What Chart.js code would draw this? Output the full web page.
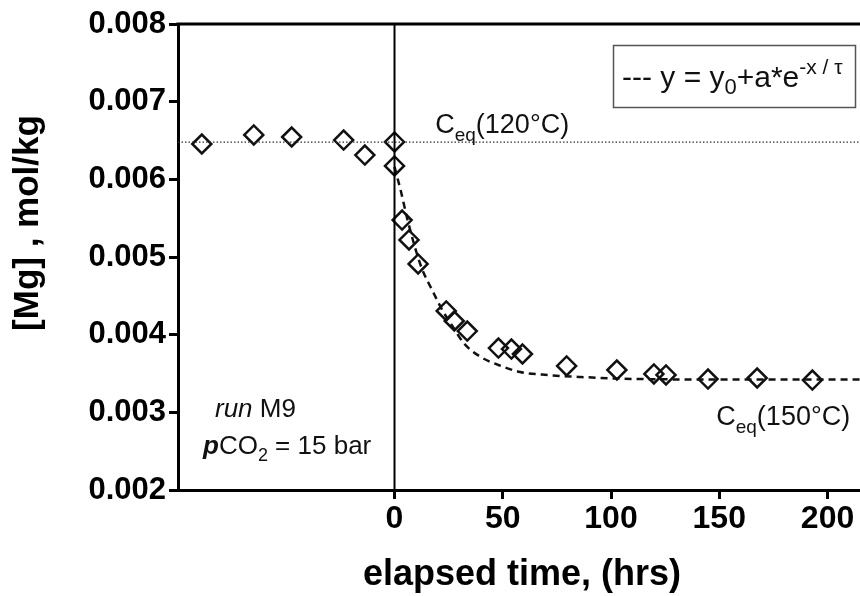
<!DOCTYPE html>
<html>
<head>
<meta charset="utf-8">
<title>[Mg] vs elapsed time – run M9</title>
<style>
  html, body { margin: 0; padding: 0; background: #fff; overflow: hidden; }
  #wrap { width: 860px; height: 596px; position: relative; }
</style>
<script src="https://cdn.jsdelivr.net/npm/chart.js@4.4.0/dist/chart.umd.min.js"></script>
</head>
<body>
<div id="wrap"><canvas id="chart" width="860" height="596"></canvas></div>
<script>
// Measured [Mg] (mol/kg) against elapsed time (hrs); t = 0 is the heating step.
const sampleHours = [-89, -65, -47.5, -23.5, -13.7, 0, 0, 3.5, 6.7, 10.9, 23.9, 27.6, 33.6, 48.0, 54.0, 59.1, 79.5, 102.7, 119.8, 125.4, 144.8, 167.5, 193.0];
const sampleMg = [0.006455, 0.006571, 0.006545, 0.006506, 0.006313, 0.006481, 0.006172, 0.005476, 0.005219, 0.004910, 0.004305, 0.004176, 0.004047, 0.003828, 0.003815, 0.003751, 0.003597, 0.003545, 0.003494, 0.003481, 0.003429, 0.003442, 0.003416];

// Exponential decay fit y = y0 + a*e^(-x/tau)
const fitHours = [0, 3, 6, 12, 18, 22, 27, 32, 40, 48, 58, 71, 86, 110, 150, 215];
const fitMg = [0.00616, 0.00584, 0.00548, 0.00490, 0.00454, 0.00432, 0.00410, 0.00389, 0.00371, 0.00361, 0.00352, 0.00348, 0.003455, 0.00343, 0.003423, 0.003423];

// Equilibrium concentration at 120 °C and the time of the temperature step
const ceq120 = 0.00648;
const stepHour = 0;

// Axis ranges and tick labels
const xRange = [-100, 215];
const yRange = [0.002, 0.008];
const xTickValues = [0, 50, 100, 150, 200];
const yTickValues = [0.002, 0.003, 0.004, 0.005, 0.006, 0.007, 0.008];

const FF = '"Liberation Sans", Arial, Helvetica, sans-serif';
const INK = '#111';

function drawRich(ctx, x, y, parts) {
  let cx = x;
  parts.forEach(p => {
    ctx.font = p.font;
    ctx.fillText(p.text, cx, y + (p.dy || 0));
    cx += ctx.measureText(p.text).width;
  });
}

const annotations = {
  id: 'annotations',
  afterDraw(chart) {
    const { ctx, chartArea: ca, scales: { x, y } } = chart;
    ctx.save();
    ctx.fillStyle = INK;
    ctx.textAlign = 'left';
    ctx.textBaseline = 'alphabetic';

    // frame line along the top of the plot
    ctx.strokeStyle = '#000';
    ctx.lineWidth = 3;
    ctx.beginPath();
    ctx.moveTo(ca.left - 1.5, ca.top);
    ctx.lineTo(ca.right, ca.top);
    ctx.stroke();

    // C_eq labels
    drawRich(ctx, x.getPixelForValue(18.8), y.getPixelForValue(0.006597), [
      { text: 'C', font: `27px ${FF}` },
      { text: 'eq', font: `19px ${FF}`, dy: 8 },
      { text: '(120°C)', font: `27px ${FF}` }
    ]);
    drawRich(ctx, x.getPixelForValue(148.6), y.getPixelForValue(0.002840), [
      { text: 'C', font: `27px ${FF}` },
      { text: 'eq', font: `19px ${FF}`, dy: 8 },
      { text: '(150°C)', font: `27px ${FF}` }
    ]);

    // run description
    drawRich(ctx, ca.left + 37, ca.bottom - 73, [
      { text: 'run', font: `italic 26px ${FF}` },
      { text: ' M9', font: `26px ${FF}` }
    ]);
    drawRich(ctx, ca.left + 25, ca.bottom - 36, [
      { text: 'p', font: `italic bold 26px ${FF}` },
      { text: 'CO', font: `26px ${FF}` },
      { text: '2', font: `18px ${FF}`, dy: 7 },
      { text: ' = 15 bar', font: `26px ${FF}` }
    ]);

    // legend box for the fit
    ctx.strokeStyle = '#555';
    ctx.lineWidth = 1.5;
    ctx.strokeRect(613.5, 45.5, 242, 62);
    drawRich(ctx, 622, 87, [
      { text: '--- y = y', font: `30px ${FF}` },
      { text: '0', font: `22px ${FF}`, dy: 7 },
      { text: '+a*e', font: `30px ${FF}` },
      { text: '-x / τ', font: `21px ${FF}`, dy: -13 }
    ]);

    // axis titles
    ctx.fillStyle = '#000';
    ctx.font = `bold 36px ${FF}`;
    ctx.textAlign = 'center';
    ctx.fillText('elapsed time, (hrs)', 522, 585);
    ctx.translate(28, 223);
    ctx.rotate(-Math.PI / 2);
    ctx.textBaseline = 'middle';
    ctx.font = `bold 35px ${FF}`;
    ctx.fillText('[Mg] , mol/kg', 0, 0);
    ctx.restore();
  }
};

const toXY = (xs, ys) => xs.map((v, i) => ({ x: v, y: ys[i] }));

new Chart(document.getElementById('chart'), {
  type: 'scatter',
  data: {
    datasets: [
      {
        label: 'step',
        data: [{ x: stepHour, y: yRange[0] }, { x: stepHour, y: yRange[1] }],
        showLine: true, borderColor: '#000', borderWidth: 2, pointRadius: 0
      },
      {
        label: 'Ceq 120',
        data: [{ x: xRange[0], y: ceq120 }, { x: xRange[1], y: ceq120 }],
        showLine: true, borderColor: '#333', borderWidth: 1.2, borderDash: [1.5, 2], pointRadius: 0
      },
      {
        label: 'fit',
        data: toXY(fitHours, fitMg),
        showLine: true, borderColor: '#111', borderWidth: 2.5, borderDash: [7, 5],
        cubicInterpolationMode: 'monotone', pointRadius: 0
      },
      {
        label: '[Mg]',
        data: toXY(sampleHours, sampleMg),
        showLine: false, pointStyle: 'rectRot', pointRadius: 9.5,
        borderColor: '#111', borderWidth: 2.5, backgroundColor: 'rgba(0,0,0,0)'
      }
    ]
  },
  options: {
    responsive: false,
    devicePixelRatio: 1,
    animation: false,
    layout: { autoPadding: false, padding: { top: 24, right: 0, left: 0, bottom: 0 } },
    plugins: { legend: { display: false }, tooltip: { enabled: false } },
    scales: {
      x: {
        type: 'linear',
        min: xRange[0], max: xRange[1],
        afterBuildTicks: s => { s.ticks = xTickValues.map(v => ({ value: v })); },
        afterFit: s => { s.height = 106; s.paddingLeft = 0; s.paddingRight = 0; },
        ticks: {
          autoSkip: false, maxRotation: 0, padding: 1, color: '#000',
          font: { family: FF, size: 32, weight: 'bold' },
          callback: v => String(v)
        },
        grid: { drawOnChartArea: false, drawTicks: true, tickLength: 9, tickWidth: 3, tickColor: '#000' },
        border: { display: true, color: '#000', width: 3 }
      },
      y: {
        min: yRange[0], max: yRange[1],
        afterBuildTicks: s => { s.ticks = yTickValues.map(v => ({ value: v })); },
        afterFit: s => { s.width = 178; },
        ticks: {
          padding: 3, color: '#000',
          font: { family: FF, size: 31, weight: 'bold' },
          callback: v => Number(v).toFixed(3)
        },
        grid: { drawOnChartArea: false, drawTicks: true, tickLength: 9, tickWidth: 3, tickColor: '#000' },
        border: { display: true, color: '#000', width: 3 }
      }
    }
  },
  plugins: [annotations]
});
</script>
</body>
</html>
